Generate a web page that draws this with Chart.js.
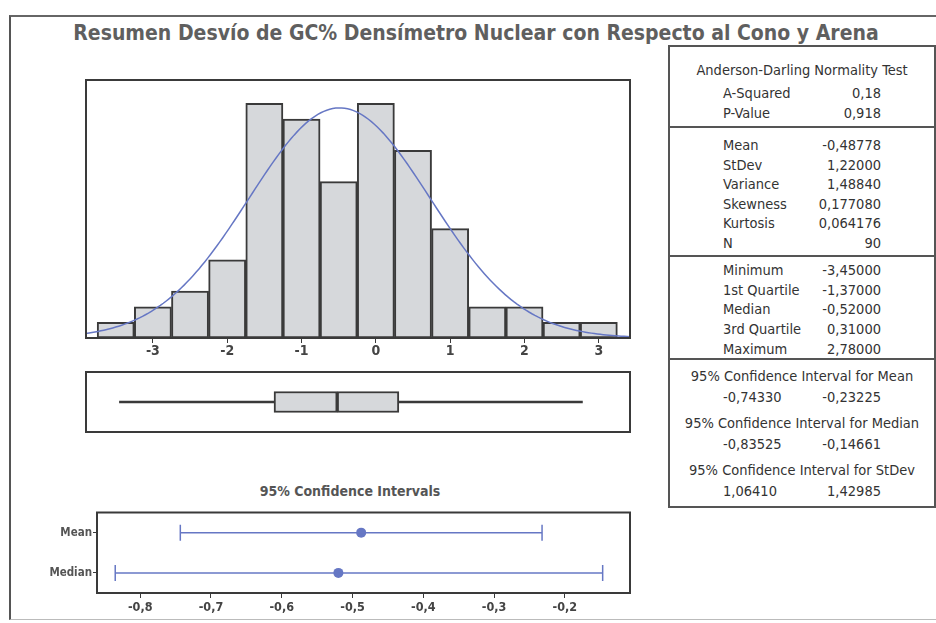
<!DOCTYPE html>
<html>
<head>
<meta charset="utf-8">
<script src="https://cdn.jsdelivr.net/npm/chart.js"></script>
<style>
  html, body { margin: 0; padding: 0; background: #fff; }
  #page { position: relative; width: 936px; height: 623px; overflow: hidden; font-family: "DejaVu Sans Condensed", "DejaVu Sans", sans-serif; }
  #frame { position: absolute; left: 9px; top: 15px; width: 960px; height: 602px; border-left: 2px solid #555; border-top: 2px solid #666; border-bottom: 1px solid #bbb; }
  #title { position: absolute; left: 0; width: 952px; top: 21px; text-align: center; font-weight: bold; font-size: 21px; color: #5f5f5f; white-space: nowrap; }
  #ciTitle { position: absolute; left: 250px; width: 200px; top: 483px; text-align: center; font-weight: bold; font-size: 14px; color: #555; white-space: nowrap; }
  canvas { position: absolute; }
  #stats { position: absolute; left: 668px; top: 45px; width: 264px; height: 459px; border: 2px solid #555; }
  .sep { position: absolute; left: 0; width: 264px; height: 0; border-top: 2px solid #555; }
  .t { position: absolute; font-size: 14.5px; color: #333; white-space: nowrap; line-height: 18px; }
</style>
</head>
<body>
<div id="page">
  <div id="frame"></div>
  <div id="title">Resumen Desvío de GC% Densímetro Nuclear con Respecto al Cono y Arena</div>
  <canvas id="hist" width="560" height="292" style="left:80px; top:74px;"></canvas>
  <canvas id="box" width="560" height="72" style="left:80px; top:366px;"></canvas>
  <div id="ciTitle">95% Confidence Intervals</div>
  <canvas id="ci" width="620" height="120" style="left:20px; top:503px;"></canvas>
  <div id="stats"></div>
</div>
<script>
// histogram bins (width 0.5) and counts
const BIN_CENTERS = [-3.5, -3, -2.5, -2, -1.5, -1, -0.5, 0, 0.5, 1, 1.5, 2, 2.5, 3];
const BIN_COUNTS = [1, 2, 3, 5, 15, 14, 10, 15, 12, 7, 2, 2, 1, 1];
const BIN_WIDTH = 0.5;
const X_TICKS = [-3, -2, -1, 0, 1, 2, 3];

// summary statistics
const N = 90;
const MEAN = -0.48778;
const STDEV = 1.22;
const FIVE_NUM = [-3.45, -1.37, -0.52, 0.31, 2.78]; // min, q1, median, q3, max

// 95% confidence intervals
const CI_ROWS = ['Mean', 'Median'];
const CI_LOW = [-0.7433, -0.83525];
const CI_HIGH = [-0.23225, -0.14661];
const CI_EST = [-0.48778, -0.52];
const CI_TICKS = [-0.8, -0.7, -0.6, -0.5, -0.4, -0.3, -0.2];

// side table text
const AD_LABELS = ['A-Squared', 'P-Value'];
const AD_VALUES = ['0,18', '0,918'];
const MOMENT_LABELS = ['Mean', 'StDev', 'Variance', 'Skewness', 'Kurtosis', 'N'];
const MOMENT_VALUES = ['-0,48778', '1,22000', '1,48840', '0,177080', '0,064176', '90'];
const QUART_LABELS = ['Minimum', '1st Quartile', 'Median', '3rd Quartile', 'Maximum'];
const QUART_VALUES = ['-3,45000', '-1,37000', '-0,52000', '0,31000', '2,78000'];
const CI_HEADS = ['95% Confidence Interval for Mean', '95% Confidence Interval for Median', '95% Confidence Interval for StDev'];
const CI_TEXT = [['-0,74330', '-0,23225'], ['-0,83525', '-0,14661'], ['1,06410', '1,42985']];

const X_MIN = -3.9, X_MAX = 3.42;
const BLUE = '#6677c4';
const DARK = '#3a3a3a';
const FILL = '#d6d8db';

Chart.defaults.font.family = '"DejaVu Sans Condensed", "DejaVu Sans", sans-serif';
Chart.defaults.animation = false;

const framePlugin = {
  id: 'frame',
  afterDraw(chart) {
    const { ctx, chartArea: a } = chart;
    ctx.save();
    ctx.strokeStyle = DARK;
    ctx.lineWidth = 2;
    ctx.strokeRect(a.left, a.top, a.right - a.left, a.bottom - a.top);
    ctx.restore();
  }
};

// fitted normal curve, scaled to counts per bin
const curve = [];
for (let x = X_MIN; x <= X_MAX + 1e-9; x += 0.04) {
  const z = (x - MEAN) / STDEV;
  curve.push({ x: x, y: N * BIN_WIDTH * Math.exp(-0.5 * z * z) / (STDEV * Math.sqrt(2 * Math.PI)) });
}

new Chart(document.getElementById('hist'), {
  type: 'bar',
  data: {
    datasets: [
      {
        type: 'line',
        data: curve,
        borderColor: BLUE,
        borderWidth: 1.5,
        pointRadius: 0,
        order: 0
      },
      {
        data: BIN_CENTERS.map((c, i) => ({ x: c, y: BIN_COUNTS[i] })),
        backgroundColor: FILL,
        borderColor: DARK,
        borderWidth: 2,
        borderSkipped: false,
        categoryPercentage: 1,
        barPercentage: 1,
        order: 1
      }
    ]
  },
  options: {
    responsive: false,
    layout: { padding: { left: 6, right: 10, top: 6, bottom: 0 } },
    plugins: { legend: { display: false }, tooltip: { enabled: false } },
    scales: {
      x: {
        type: 'linear',
        min: X_MIN,
        max: X_MAX,
        offset: false,
        afterBuildTicks: s => { s.ticks = X_TICKS.map(v => ({ value: v })); },
        afterFit: s => { s.height = 28; },
        grid: { drawOnChartArea: false, tickLength: 5, color: DARK, offset: false },
        border: { color: DARK, width: 2 },
        ticks: { color: '#444', font: { size: 14, weight: 'bold' }, padding: 0, maxRotation: 0 }
      },
      y: { display: false, min: 0, max: 16.5 }
    }
  },
  plugins: [framePlugin]
});

// box plot: whiskers and the two halves of the box as floating bars
const [MIN, Q1, MED, Q3, MAX] = FIVE_NUM;
new Chart(document.getElementById('box'), {
  type: 'bar',
  data: {
    labels: [''],
    datasets: [
      { data: [[MIN, Q1]], backgroundColor: DARK, barThickness: 2, grouped: false },
      { data: [[Q3, MAX]], backgroundColor: DARK, barThickness: 2, grouped: false },
      { data: [[Q1, MED]], backgroundColor: FILL, borderColor: DARK, borderWidth: 2, borderSkipped: false, barThickness: 21, grouped: false },
      { data: [[MED, Q3]], backgroundColor: FILL, borderColor: DARK, borderWidth: 2, borderSkipped: false, barThickness: 21, grouped: false }
    ]
  },
  options: {
    responsive: false,
    indexAxis: 'y',
    layout: { padding: { left: 6, right: 10, top: 6, bottom: 6 } },
    plugins: { legend: { display: false }, tooltip: { enabled: false } },
    scales: {
      x: { type: 'linear', min: X_MIN, max: X_MAX, display: false },
      y: { display: false }
    }
  },
  plugins: [framePlugin]
});

// confidence intervals for mean and median
const ciSets = CI_ROWS.map((row, i) => ({
  data: [{ x: CI_LOW[i], y: row }, { x: CI_HIGH[i], y: row }],
  borderColor: BLUE,
  borderWidth: 1.5,
  pointStyle: 'line',
  pointRotation: 90,
  pointRadius: 8,
  pointBorderWidth: 1.5,
  pointBorderColor: BLUE
}));
ciSets.push({
  data: CI_ROWS.map((row, i) => ({ x: CI_EST[i], y: row })),
  showLine: false,
  pointRadius: 5,
  pointBackgroundColor: BLUE,
  pointBorderColor: BLUE,
  pointBorderWidth: 0
});

new Chart(document.getElementById('ci'), {
  type: 'line',
  data: { datasets: ciSets },
  options: {
    responsive: false,
    layout: { padding: { left: 0, right: 10, top: 6, bottom: 0 } },
    plugins: { legend: { display: false }, tooltip: { enabled: false } },
    scales: {
      x: {
        type: 'linear',
        min: -0.861,
        max: -0.108,
        afterBuildTicks: s => { s.ticks = CI_TICKS.map(v => ({ value: v })); },
        afterFit: s => { s.height = 30; },
        grid: { drawOnChartArea: false, tickLength: 5, color: DARK },
        border: { color: DARK, width: 2 },
        ticks: { color: '#444', font: { size: 12.5, weight: 'bold' }, padding: 2, maxRotation: 0,
          callback: v => v.toFixed(1).replace('.', ',') }
      },
      y: {
        type: 'category',
        labels: CI_ROWS,
        offset: true,
        afterFit: s => { s.width = 77; },
        grid: { drawOnChartArea: false, tickLength: 4, color: DARK, offset: false },
        border: { color: DARK, width: 2 },
        ticks: { color: '#555', font: { size: 11.5, weight: 'bold' }, padding: 1 }
      }
    }
  },
  plugins: [framePlugin]
});

// side table
const stats = document.getElementById('stats');
const OX = 670, OY = 47; // inner origin of the table box
function put(text, x, y, align) {
  const d = document.createElement('div');
  d.className = 't';
  d.textContent = text;
  d.style.top = (y - OY - 9) + 'px';
  if (align === 'right') {
    d.style.right = (OX + 264 - x) + 'px';
  } else if (align === 'center') {
    d.style.left = '0px';
    d.style.width = '264px';
    d.style.textAlign = 'center';
  } else {
    d.style.left = (x - OX) + 'px';
  }
  stats.appendChild(d);
}
function sep(y) {
  const d = document.createElement('div');
  d.className = 'sep';
  d.style.top = (y - OY - 1) + 'px';
  stats.appendChild(d);
}
const LX = 723, RX = 881;
put('Anderson-Darling Normality Test', 0, 70, 'center');
AD_LABELS.forEach((l, i) => { put(l, LX, 93 + i * 20, 'left'); put(AD_VALUES[i], RX, 93 + i * 20, 'right'); });
sep(127);
MOMENT_LABELS.forEach((l, i) => { put(l, LX, 145 + i * 19.5, 'left'); put(MOMENT_VALUES[i], RX, 145 + i * 19.5, 'right'); });
sep(256);
QUART_LABELS.forEach((l, i) => { put(l, LX, 270 + i * 19.7, 'left'); put(QUART_VALUES[i], RX, 270 + i * 19.7, 'right'); });
sep(359);
CI_HEADS.forEach((h, i) => {
  const y = 376 + i * 47;
  put(h, 0, y, 'center');
  put(CI_TEXT[i][0], LX, y + 21, 'left');
  put(CI_TEXT[i][1], RX, y + 21, 'right');
});
</script>
</body>
</html>
